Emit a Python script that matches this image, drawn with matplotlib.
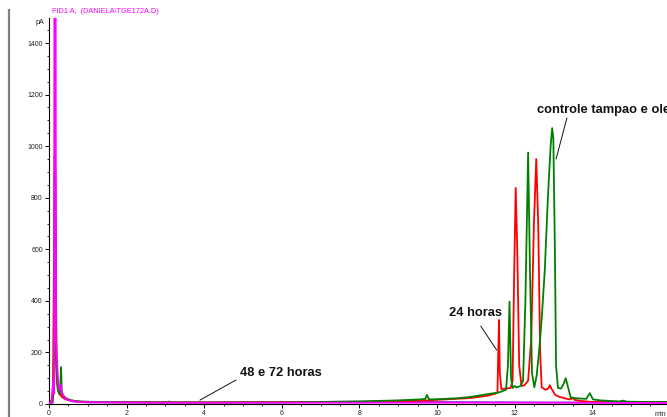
import matplotlib
matplotlib.use("Agg")
import matplotlib.pyplot as plt
from matplotlib.ticker import MultipleLocator

plt.rcParams['font.family'] = ['Liberation Sans', 'DejaVu Sans']

# FID1 A traces: retention time (min) and signal (pA)
ctrl_t = [0.0, 0.06, 0.10, 0.13, 0.145, 0.165, 0.19, 0.22, 0.26, 0.29, 0.31, 0.33,
          0.38, 0.45, 0.55, 0.7, 0.9, 1.2, 2.0, 4.0, 6.0, 8.0, 9.0, 9.6, 9.70, 9.74,
          9.80, 9.9, 10.5, 10.85, 11.3, 11.6, 11.78, 11.83, 11.87, 11.91, 11.95, 12.00,
          12.05, 12.15, 12.22, 12.28, 12.35, 12.40, 12.45, 12.51, 12.57, 12.63, 12.70,
          12.78, 12.86, 12.93, 12.97, 13.00, 13.04, 13.07, 13.12, 13.20, 13.27, 13.32,
          13.37, 13.45, 13.6, 13.85, 13.94, 14.02, 14.2, 14.7, 14.8, 14.9, 15.3, 15.93]
ctrl_pA = [4, 6, 40, 90, 960, 900, 150, 60, 40, 60, 143, 45,
           30, 22, 15, 11, 9, 8, 7, 6, 6, 10, 14, 18, 20, 35,
           18, 18, 22, 27, 38, 45, 55, 150, 397, 100, 62, 70,
           64, 70, 90, 400, 975, 500, 120, 65, 110, 200, 330,
           520, 800, 1000, 1070, 1030, 600, 150, 62, 60, 80, 100,
           70, 25, 22, 20, 42, 18, 14, 10, 13, 9, 8, 8]

h24_t = [0.0, 0.10, 0.145, 0.165, 0.20, 0.26, 0.35, 0.5, 0.8, 1.5, 4.0, 8.0, 9.5,
         10.85, 11.3, 11.5, 11.56, 11.58, 11.60, 11.62, 11.66, 11.90, 11.95, 11.99,
         12.03, 12.07, 12.12, 12.18, 12.25, 12.35, 12.43, 12.50, 12.56, 12.61, 12.66,
         12.70, 12.80, 12.87, 12.91, 12.95, 13.05, 13.15, 13.40, 13.47, 13.50, 13.55,
         13.7, 14.0, 15.0, 15.93]
h24_pA = [4, 20, 900, 700, 90, 40, 25, 15, 9, 7, 6, 8, 12,
          23, 32, 40, 45, 200, 326, 120, 58, 62, 90, 500,
          838, 600, 150, 70, 72, 90, 250, 700, 950, 700, 200,
          65, 55, 60, 73, 60, 35, 28, 18, 20, 25, 16,
          12, 8, 6, 6]

h48_t = [0.0, 0.06, 0.09, 0.11, 0.13, 0.145, 0.165, 0.18, 0.21, 0.24, 0.27, 0.30,
         0.33, 0.40, 0.50, 0.70, 1.0, 3.0, 8.0, 12.0, 15.93]
h48_pA = [3, 6, 60, 95, 40, 3000, 3000, 240, 160, 80, 55, 75,
          45, 25, 15, 9, 7, 5, 5, 5, 4]

h72_t = [0.0, 0.10, 0.15, 0.20, 0.30, 0.40, 0.60, 1.0, 3.05, 3.10, 3.15, 6.0, 8.0,
         10.0, 13.0, 15.93]
h72_pA = [3, 5, 300, 100, 40, 20, 10, 6, 5, 10, 5, 7, 9,
          8, 6, 7]

x_max = 15.93
y_max = 1497

fig = plt.figure(figsize=(6.67, 4.17), dpi=100)
ax = fig.add_axes([49 / 667, 13 / 417, 618 / 667, 386 / 417])

lw = 1.3
ax.plot(h72_t, h72_pA, color='#8a3cc8', lw=lw, zorder=2)
ax.plot(h24_t, h24_pA, color='#ff0000', lw=lw, zorder=3)
ax.plot(ctrl_t, ctrl_pA, color='#008000', lw=lw, zorder=4)
ax.plot(h48_t, h48_pA, color='#ff00ff', lw=lw, zorder=5)

ax.set_xlim(0, x_max)
ax.set_ylim(0, y_max)

for side in ('top', 'right'):
    ax.spines[side].set_visible(False)
for side in ('left', 'bottom'):
    ax.spines[side].set_linewidth(0.8)
    ax.spines[side].set_color('black')

ax.xaxis.set_major_locator(MultipleLocator(2))
ax.xaxis.set_minor_locator(MultipleLocator(0.5))
ax.yaxis.set_major_locator(MultipleLocator(200))
ax.yaxis.set_minor_locator(MultipleLocator(50))
ax.tick_params(which='major', direction='out', length=3, width=0.7,
               labelsize=5, pad=1.5, colors='black', labelcolor='#222222')
ax.tick_params(which='minor', direction='out', length=1.6, width=0.6)

fig.text(44 / 667, 1 - 23 / 417, 'pA', fontsize=5.2, ha='right', va='center',
         color='#222222')
fig.text(655 / 667, 1 - 415 / 417, 'min', fontsize=5.2, ha='left', va='center',
         color='#222222')
fig.text(52 / 667, 1 - 13 / 417, 'FID1 A,  (DANIELA\\TGE172A.D)', fontsize=5.3,
         ha='left', va='baseline', color='#ff00ff')

# gray frame line on the far left
fig.add_artist(plt.Line2D([9 / 667, 9 / 667], [0, 1 - 10 / 417],
                          color='#808080', lw=1.6))

bold = dict(fontsize=9.3, fontweight='bold', color='#111111')
line = dict(arrowstyle='-', color='#111111', lw=0.7, shrinkA=0, shrinkB=0)

ax.text(12.58, 1140, 'controle tampao e oleo', ha='left', va='center',
        clip_on=False, **bold)
ax.annotate('', xy=(13.07, 950), xytext=(13.35, 1109), arrowprops=line)
ax.text(10.31, 353, '24 horas', ha='left', va='center', **bold)
ax.annotate('', xy=(11.54, 209), xytext=(11.13, 302), arrowprops=line)
ax.text(4.92, 120, '48 e 72 horas', ha='left', va='center', **bold)
ax.annotate('', xy=(3.89, 15), xytext=(4.82, 93), arrowprops=line)

fig.savefig('out.png', dpi=100)
